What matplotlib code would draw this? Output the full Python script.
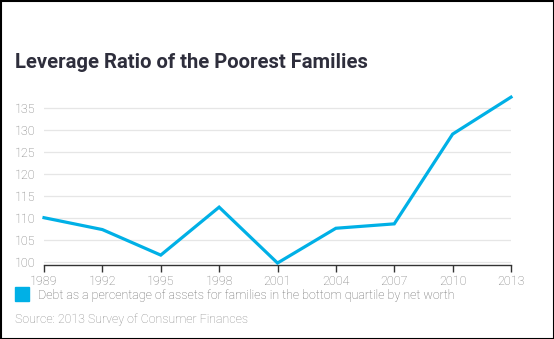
import matplotlib
matplotlib.use("Agg")
import matplotlib.pyplot as plt
from matplotlib.patches import Rectangle

years = [1989, 1992, 1995, 1998, 2001, 2004, 2007, 2010, 2013]
values = [110.0, 107.3, 101.5, 112.4, 99.7, 107.6, 108.6, 129.0, 137.4]
yticks = [100, 105, 110, 115, 120, 125, 130, 135]

title = "Leverage Ratio of the Poorest Families"
legend_label = "Debt as a percentage of assets for families in the bottom quartile by net worth"
source = "Source: 2013 Survey of Consumer Finances"

blue = "#00b0e6"
W, H = 554, 339
fig = plt.figure(figsize=(W / 100, H / 100), dpi=100)
ax = fig.add_axes([44 / W, 1 - 265 / H, (511 - 44) / W, (265 - 94.5) / H])

ax.plot(years, values, color=blue, lw=2.3, solid_joinstyle="miter", clip_on=False, zorder=3)
ax.set_xlim(1989, 2013)
ax.set_ylim(99.25, 138)
ax.set_xticks(years)
ax.set_yticks(yticks)
ax.grid(axis="y", color="#e6e6e6", lw=0.9)
ax.set_axisbelow(True)
for s in ["top", "right", "left"]:
    ax.spines[s].set_visible(False)
ax.spines["bottom"].set_color("#333333")
ax.spines["bottom"].set_linewidth(1.0)
ax.tick_params(axis="x", length=5, width=1.0, color="#333333", labelsize=9,
               labelcolor="#777777", pad=2)
ax.tick_params(axis="y", length=0, labelsize=9, labelcolor="#777777", pad=6)
for lab in ax.get_xticklabels() + ax.get_yticklabels():
    lab.set_fontfamily("Roboto")
    lab.set_fontweight("light")

fig.text(15 / W, 1 - 63 / H, title, fontsize=14.6, fontweight="bold",
         color="#2e2e3c", family="Roboto", va="center", ha="left")

fig.patches.append(Rectangle((15 / W, 1 - 301 / H), 14 / W, 14 / H, transform=fig.transFigure,
                             color=blue, figure=fig))
fig.text(38 / W, 1 - 295 / H, legend_label, fontsize=9, color="#666666",
         family="Roboto", fontweight="light", va="center", ha="left")
fig.text(15 / W, 1 - 320 / H, source, fontsize=8.9, color="#888888",
         family="Roboto", fontweight="light", va="center", ha="left")

fig.patches.append(Rectangle((0.5 / W, 0.5 / H), (W - 1) / W, (H - 1) / H, transform=fig.transFigure,
                             fill=False, edgecolor="black", lw=1.5, figure=fig))

fig.savefig("out.png", dpi=100)
